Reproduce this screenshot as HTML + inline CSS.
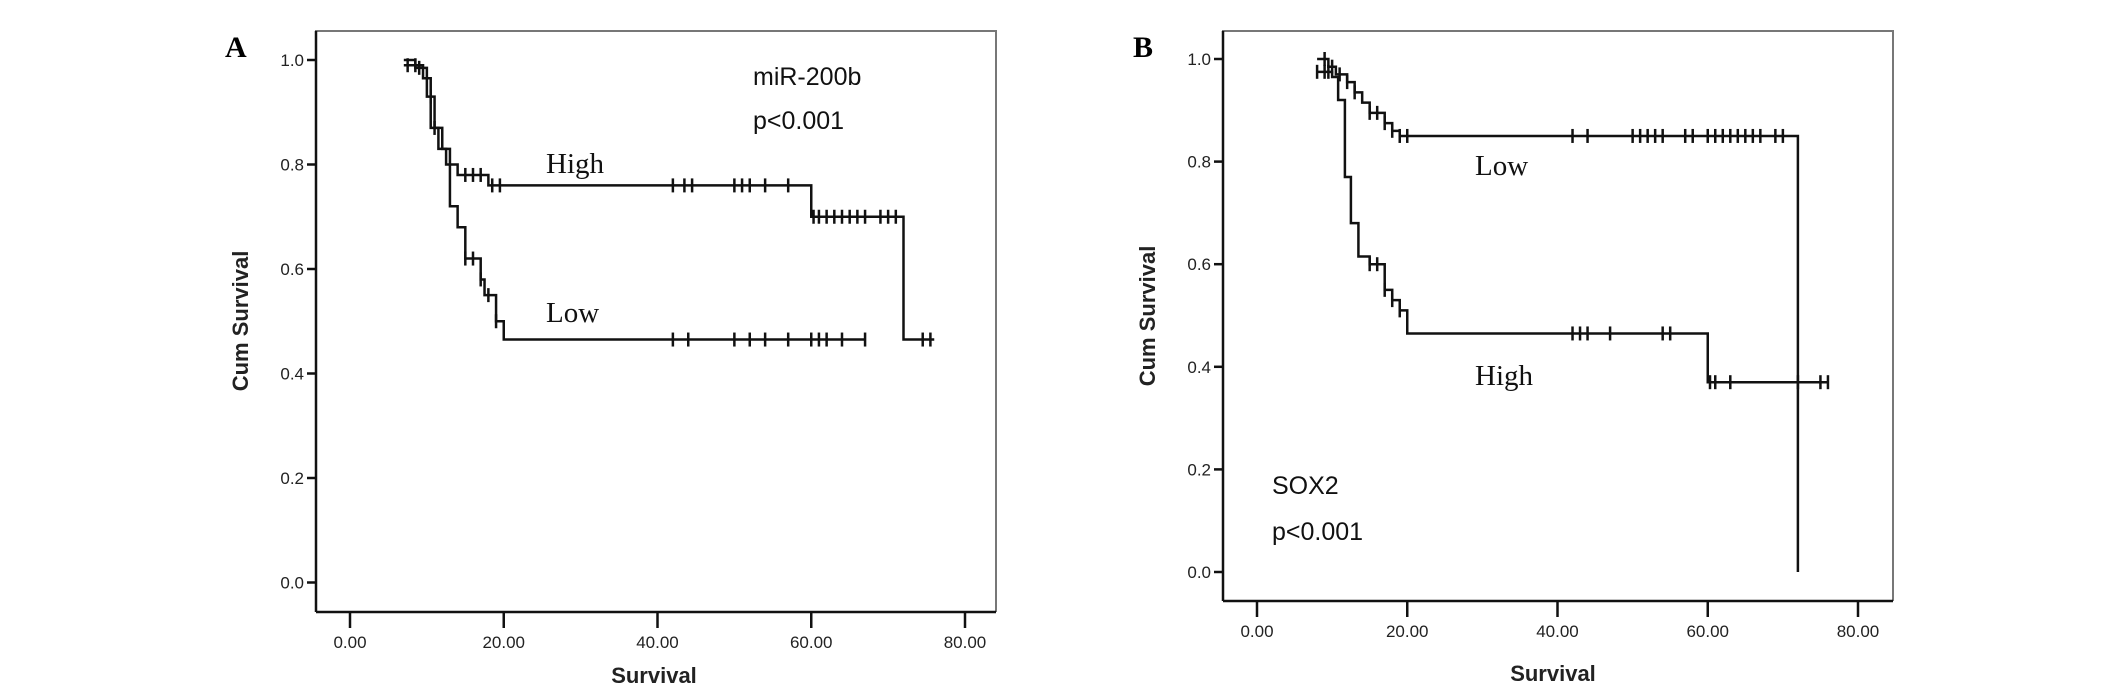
<!DOCTYPE html>
<html><head><meta charset="utf-8">
<style>
html,body{margin:0;padding:0;background:#fff;}
svg{display:block;}
.tick{font-family:"Liberation Sans",sans-serif;font-size:17px;fill:#222;}
.ann{font-family:"Liberation Sans",sans-serif;font-size:25px;fill:#111;}
.grp{font-family:"Liberation Serif",serif;font-size:29px;fill:#111;}
.ttl{font-family:"Liberation Sans",sans-serif;font-size:22px;font-weight:bold;fill:#222;}
.pl{font-family:"Liberation Serif",serif;font-size:30px;font-weight:bold;fill:#000;}
</style></head>
<body>
<svg id="fig" width="2126" height="694" viewBox="0 0 2126 694">
  <text class="pl" x="225" y="57">A</text>
  <text class="pl" x="1133" y="57">B</text>
  <text class="ann" x="753" y="85">miR-200b</text>
  <text class="ann" x="753" y="129">p&lt;0.001</text>
  <text class="grp" x="546" y="173">High</text>
  <text class="grp" x="546" y="322">Low</text>
  <text class="ann" x="1272" y="494">SOX2</text>
  <text class="ann" x="1272" y="540">p&lt;0.001</text>
  <text class="grp" x="1475" y="175">Low</text>
  <text class="grp" x="1475" y="385">High</text>
  <text class="ttl" x="654" y="683" text-anchor="middle">Survival</text>
  <text class="ttl" x="1553" y="681" text-anchor="middle">Survival</text>
  <text class="ttl" transform="translate(248,321) rotate(-90)" text-anchor="middle">Cum Survival</text>
  <text class="ttl" transform="translate(1155,316) rotate(-90)" text-anchor="middle">Cum Survival</text>
</svg>
<script>
// Panel A data
const xTicks = [0, 20, 40, 60, 80];
const xTickLabels = ["0.00", "20.00", "40.00", "60.00", "80.00"];
const yTicks = [0, 0.2, 0.4, 0.6, 0.8, 1.0];
const yTickLabels = ["0.0", "0.2", "0.4", "0.6", "0.8", "1.0"];
const aHighTimes = [7, 9.5, 10.5, 11.5, 12.5, 14, 18, 60, 72];
const aHighSurv = [0.99, 0.965, 0.87, 0.83, 0.80, 0.78, 0.76, 0.70, 0.465];
const aHighEnd = 76;
const aHighCensor = [7.5, 8.5, 11, 15, 16, 17, 18.5, 19.5, 42, 43.5, 44.5, 50, 51, 52, 54, 57, 60.3, 61, 62, 63, 64, 65, 66, 67, 69, 70, 71, 74.5, 75.5];
const aLowTimes = [7, 8.5, 10, 11, 12, 13, 14, 15, 17, 17.5, 19, 20];
const aLowSurv = [1.0, 0.985, 0.93, 0.87, 0.83, 0.72, 0.68, 0.62, 0.58, 0.55, 0.50, 0.465];
const aLowEnd = 67;
const aLowCensor = [9, 10.5, 15, 16, 17, 18, 19, 42, 44, 50, 52, 54, 57, 60, 61, 62, 64, 67];
// Panel B data
const bLowTimes = [8, 9.5, 10.5, 12, 13, 14, 15, 17, 18, 19];
const bLowSurv = [1.0, 0.985, 0.97, 0.955, 0.935, 0.915, 0.895, 0.875, 0.86, 0.85];
const bLowEnd = 72;
const bLowDrop = 0;
const bLowCensor = [9, 10, 11, 12, 13, 15, 16, 17, 18, 19, 20, 42, 44, 50, 51, 52, 53, 54, 57, 58, 60, 61, 62, 63, 64, 65, 66, 67, 69, 70];
const bHighTimes = [8, 10, 10.8, 11.7, 12.5, 13.5, 15, 17, 18, 19, 20, 60];
const bHighSurv = [0.975, 0.965, 0.92, 0.77, 0.68, 0.615, 0.60, 0.55, 0.53, 0.51, 0.465, 0.44];
const bHighSurv2 = 0.37;
const bHighEnd = 76;
const bHighCensor = [8, 9, 9.5, 15, 16, 17, 18, 19, 42, 43, 44, 47, 54, 55, 60.3, 61, 63, 72, 75, 76];

const NS = "http://www.w3.org/2000/svg";
const svg = document.getElementById('fig');
function mk(tag, attrs, parent) {
  const e = document.createElementNS(NS, tag);
  for (const k in attrs) e.setAttribute(k, attrs[k]);
  (parent || svg).appendChild(e);
  return e;
}
const panelA = {L:316, R:996, T:31, B:612, x0:350, x80:965, y0:582.5, y1:60};
const panelB = {L:1223, R:1893, T:31, B:601, x0:1257, x80:1858, y0:572, y1:59};
function sx(p, v) { return p.x0 + v * (p.x80 - p.x0) / 80; }
function sy(p, v) { return p.y0 - v * (p.y0 - p.y1); }

function axes(p, tag) {
  const g = mk('g', {});
  
  
  const fr = mk('path', {d:`M${p.L},${p.B} L${p.L},${p.T} L${p.R},${p.T} L${p.R},${p.B}`, fill:'none', stroke:'#777', 'stroke-width':2}, g);
  
  
  const ya = mk('line', {x1:p.L, y1:p.T, x2:p.L, y2:p.B, stroke:'#111', 'stroke-width':2.5}, g);
  
  
  const xa = mk('line', {x1:p.L, y1:p.B, x2:p.R, y2:p.B, stroke:'#111', 'stroke-width':2.5}, g);
  
  
  yTicks.forEach((v, i) => {
    const y = sy(p, v);
    const t = mk('line', {x1:p.L - 9, y1:y, x2:p.L, y2:y, stroke:'#111', 'stroke-width':2.5}, g);
    
    
    const tx = mk('text', {x:p.L - 12, y:y + 6, 'text-anchor':'end', class:'tick'}, g);
    tx.textContent = yTickLabels[i];
    
    
  });
  xTicks.forEach((v, i) => {
    const x = sx(p, v);
    const t = mk('line', {x1:x, y1:p.B, x2:x, y2:p.B + 16, stroke:'#111', 'stroke-width':2.5}, g);
    
    
    const tx = mk('text', {x:x, y:p.B + 36, 'text-anchor':'middle', class:'tick'}, g);
    tx.textContent = xTickLabels[i];
    
    
  });
}

function survAt(times, surv, t) {
  let s = surv[0];
  for (let i = 0; i < times.length; i++) if (t >= times[i]) s = surv[i];
  return s;
}
function curve(p, times, surv, end, censor, name, extra) {
  const g = mk('g', {});
  
  
  let d = `M${sx(p, times[0])},${sy(p, surv[0])}`;
  for (let i = 1; i < times.length; i++) {
    d += ` H${sx(p, times[i])} V${sy(p, surv[i])}`;
  }
  if (extra !== undefined) {
    d += ` H${sx(p, end)} V${sy(p, extra)}`;
  } else {
    d += ` H${sx(p, end)}`;
  }
  const path = mk('path', {d:d, fill:'none', stroke:'#111', 'stroke-width':2.5}, g);
  
  
  censor.forEach(c => {
    const x = sx(p, c), y = sy(p, survAt(times, surv, c));
    const m = mk('line', {x1:x, y1:y - 7, x2:x, y2:y + 7, stroke:'#111', 'stroke-width':2.5}, g);
    
    
  });
}

axes(panelA, 'panel-a');
axes(panelB, 'panel-b');
curve(panelA, aHighTimes, aHighSurv, aHighEnd, aHighCensor, 'panel-a-high-curve');
curve(panelA, aLowTimes, aLowSurv, aLowEnd, aLowCensor, 'panel-a-low-curve');
curve(panelB, bLowTimes, bLowSurv, bLowEnd, bLowCensor, 'panel-b-low-curve', bLowDrop);
curve(panelB, bHighTimes.concat([60]), bHighSurv.concat([bHighSurv2]), bHighEnd, bHighCensor, 'panel-b-high-curve');
</script>
</body></html>
